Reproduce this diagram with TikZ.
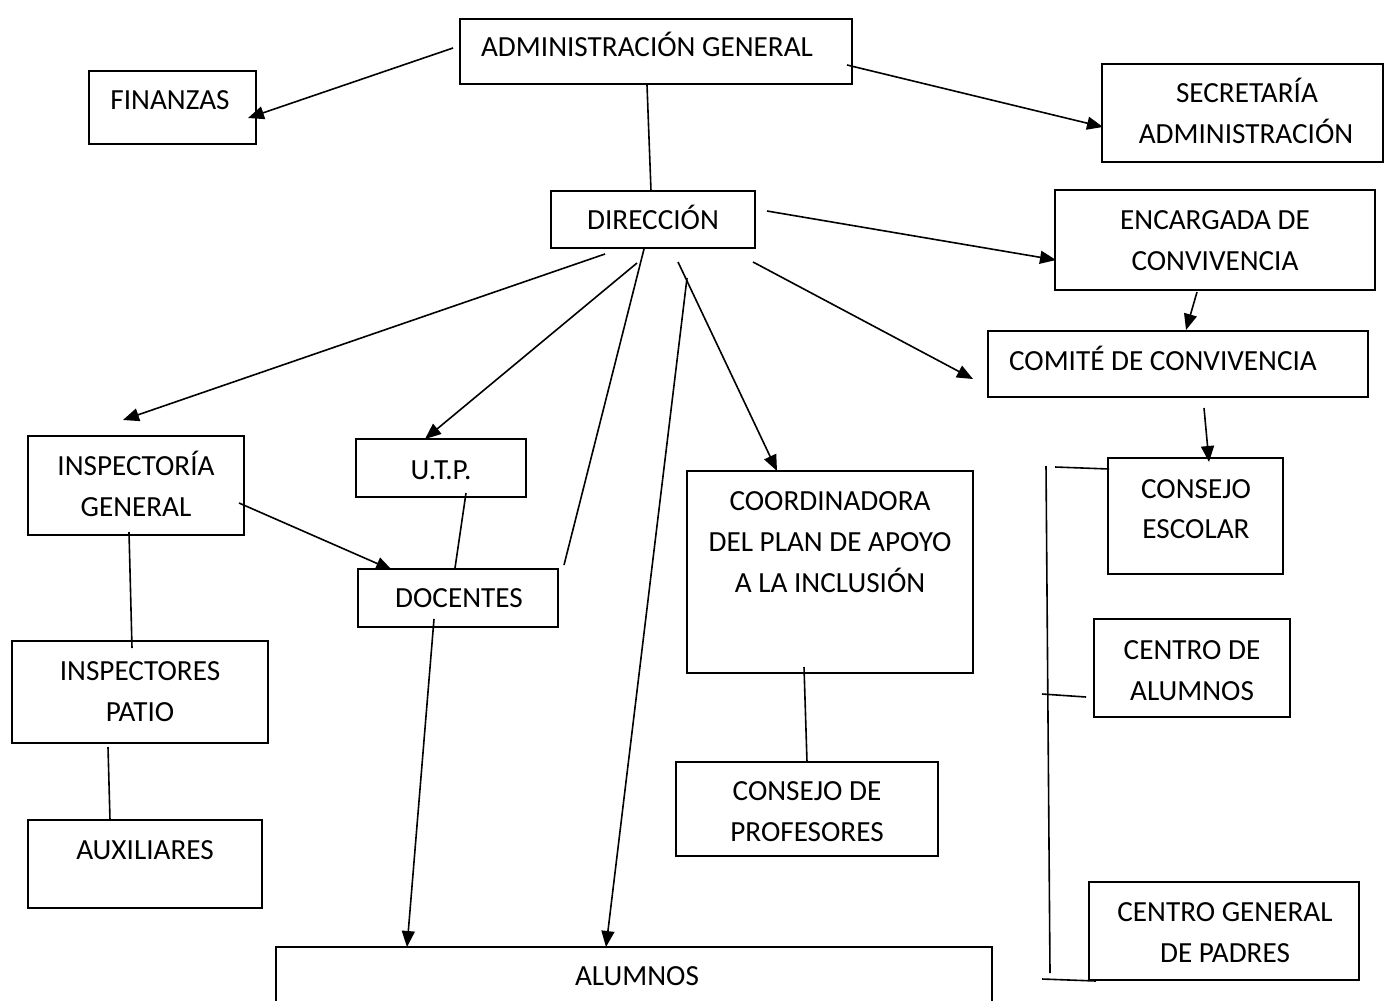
\documentclass[tikz,border=0pt]{standalone}
\usepackage{fontspec}
\setmainfont{Carlito}
\usetikzlibrary{arrows.meta}
\tikzset{
  obox/.style={draw, line width=0.9pt, inner sep=0pt, outer sep=0pt},
  otxt/.style={anchor=base, inner sep=0pt, outer sep=0pt, font=\fontsize{14.6}{20.5}\selectfont},
  conn/.style={line width=0.8pt},
  arr/.style={line width=0.8pt, -{Triangle[length=8pt,width=6.5pt]}}
}
\newcommand\obox[5]{\node[obox, minimum width={(#4-#2)*0.5pt}, minimum height={(#5-#3)*0.5pt}] (#1) at ({(#2+#4)/2},{(#3+#5)/2}) {};}
\newcommand\otxt[4]{\node[otxt] (#1) at (#2,#3) {#4};}
\begin{document}
\begin{tikzpicture}[x=0.5pt,y=-0.5pt]
\useasboundingbox (0,0) rectangle (1384,1000);
% boxes
\obox{adm}{460}{19}{852}{84}
\obox{fin}{89}{71}{256}{144}
\obox{sec}{1102}{64}{1383}{162}
\obox{dir}{551}{191}{755}{248}
\obox{enc}{1055}{190}{1375}{290}
\obox{com}{988}{331}{1368}{397}
\obox{insp}{28}{436}{244}{535}
\obox{utp}{356}{439}{526}{497}
\obox{doc}{358}{569}{558}{627}
\obox{coord}{687}{471}{973}{673}
\obox{ce}{1108}{458}{1283}{574}
\obox{ca}{1094}{619}{1290}{717}
\obox{insps}{12}{641}{268}{743}
\obox{cprof}{676}{762}{938}{856}
\obox{aux}{28}{820}{262}{908}
\obox{cgp}{1089}{882}{1359}{980}
\obox{alu}{276}{947}{992}{1010}
% texts
\otxt{admt}{647}{57}{ADMINISTRACIÓN GENERAL}
\otxt{fint}{170}{110}{FINANZAS}
\otxt{sect1}{1247}{103}{SECRETARÍA}
\otxt{sect2}{1246}{144}{ADMINISTRACIÓN}
\otxt{dirt}{653}{229}{DIRECCIÓN}
\otxt{enct1}{1215}{229}{ENCARGADA DE}
\otxt{enct2}{1215}{270}{CONVIVENCIA}
\otxt{comt}{1163}{370}{COMITÉ DE CONVIVENCIA}
\otxt{inspt1}{136}{475}{INSPECTORÍA}
\otxt{inspt2}{136}{516}{GENERAL}
\otxt{utpt}{441}{479}{U.T.P.}
\otxt{doct}{459}{607}{DOCENTES}
\otxt{coordt1}{830}{510}{COORDINADORA}
\otxt{coordt2}{830}{551}{DEL PLAN DE APOYO}
\otxt{coordt3}{830}{592}{A LA INCLUSIÓN}
\otxt{cet1}{1196}{498}{CONSEJO}
\otxt{cet2}{1196}{538}{ESCOLAR}
\otxt{cat1}{1192}{659}{CENTRO DE}
\otxt{cat2}{1192}{700}{ALUMNOS}
\otxt{inspst1}{140}{680}{INSPECTORES}
\otxt{inspst2}{140}{721}{PATIO}
\otxt{cproft1}{807}{800}{CONSEJO DE}
\otxt{cproft2}{807}{841}{PROFESORES}
\otxt{auxt}{145}{859}{AUXILIARES}
\otxt{cgpt1}{1225}{921}{CENTRO GENERAL}
\otxt{cgpt2}{1225}{962}{DE PADRES}
\otxt{alut}{637}{985}{ALUMNOS}
% connector end points
\coordinate (admA) at (453,48);   \coordinate (finA) at (248,118);
\coordinate (admB) at (847,65);   \coordinate (secA) at (1103,127);
\coordinate (admC) at (647,85);   \coordinate (dirA) at (651,191);
\coordinate (dirB) at (767,211);  \coordinate (encA) at (1056,260);
\coordinate (encB) at (1197,292); \coordinate (comA) at (1186,330);
\coordinate (dirC) at (753,262);  \coordinate (comB) at (973,379);
\coordinate (comC) at (1204,408); \coordinate (ceA) at (1209,462);
\coordinate (dirD) at (605,254);  \coordinate (inspA) at (123,420);
\coordinate (dirE) at (637,263);  \coordinate (utpA) at (425,439);
\coordinate (dirF) at (644,249);  \coordinate (docA) at (564,565);
\coordinate (dirG) at (687,278);  \coordinate (aluA) at (606,947);
\coordinate (dirH) at (678,262);  \coordinate (coordA) at (777,471);
\coordinate (inspB) at (239,503); \coordinate (docB) at (392,570);
\coordinate (utpB) at (466,493);  \coordinate (docC) at (455,568);
\coordinate (docD) at (434,619);  \coordinate (aluB) at (407,947);
\coordinate (inspC) at (129,532); \coordinate (inspsA) at (132,648);
\coordinate (inspsB) at (108,747); \coordinate (auxA) at (110,820);
\coordinate (coordB) at (804,667); \coordinate (cprofA) at (807,762);
\coordinate (brT) at (1046,466);  \coordinate (brB) at (1050,973);
\coordinate (brT1) at (1055,467); \coordinate (ceB) at (1109,469);
\coordinate (brM1) at (1042,694); \coordinate (caA) at (1086,697);
\coordinate (brB1) at (1042,979); \coordinate (cgpA) at (1096,981);
% connectors
\draw[arr] (admA) -- (finA);
\draw[arr] (admB) -- (secA);
\draw[conn] (admC) -- (dirA);
\draw[arr] (dirB) -- (encA);
\draw[arr] (encB) -- (comA);
\draw[arr] (dirC) -- (comB);
\draw[arr] (comC) -- (ceA);
\draw[arr] (dirD) -- (inspA);
\draw[arr] (dirE) -- (utpA);
\draw[conn] (dirF) -- (docA);
\draw[arr] (dirG) -- (aluA);
\draw[arr] (dirH) -- (coordA);
\draw[arr] (inspB) -- (docB);
\draw[conn] (utpB) -- (docC);
\draw[arr] (docD) -- (aluB);
\draw[conn] (inspC) -- (inspsA);
\draw[conn] (inspsB) -- (auxA);
\draw[conn] (coordB) -- (cprofA);
\draw[conn] (brT) -- (brB);
\draw[conn] (brT1) -- (ceB);
\draw[conn] (brM1) -- (caA);
\draw[conn] (brB1) -- (cgpA);
\end{tikzpicture}
\end{document}
